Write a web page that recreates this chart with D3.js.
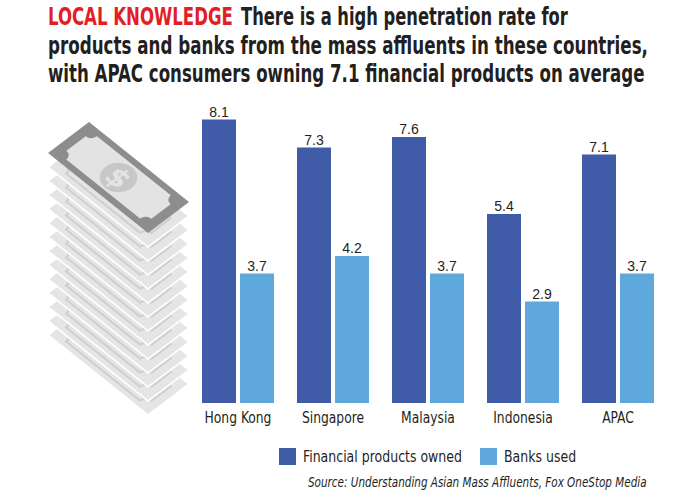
<!DOCTYPE html>
<html>
<head>
<meta charset="utf-8">
<script src="https://cdn.jsdelivr.net/npm/d3@7"></script>
<style>
  body { margin: 0; background: #fff; }
  svg { display: block; }
  .narrow { font-family: "Liberation Sans Narrow", "DejaVu Sans Condensed", "Liberation Sans", sans-serif; }
</style>
</head>
<body>
<svg id="chart" width="700" height="500"></svg>
<script>
// data
const categories = ["Hong Kong", "Singapore", "Malaysia", "Indonesia", "APAC"];
const seriesNames = ["Financial products owned", "Banks used"];
const productsOwned = [8.1, 7.3, 7.6, 5.4, 7.1];
const banksUsed = [3.7, 4.2, 3.7, 2.9, 3.7];
const titleKicker = "LOCAL KNOWLEDGE";
const titleLines = [
    "There is a high penetration rate for",
    "products and banks from the mass affluents in these countries,",
    "with APAC consumers owning 7.1 financial products on average"
];
const sourceText = "Source: Understanding Asian Mass Affluents, Fox OneStop Media";

const colors = ["#405ca8", "#5ea8dc"];
const ink = "#231f20";

const svg = d3.select("#chart");

// resserre un texte horizontalement pour tenir dans w pixels
function fitX(sel, x, y, w) {
    sel.attr("x", 0).attr("y", 0);
    const n = sel.node().getComputedTextLength();
    sel.attr("transform", `translate(${x},${y}) scale(${w / n},1)`);
    return w / n;
}

// titre
const kicker = svg.append("text")
    .attr("class", "narrow")
    .attr("font-size", 24)
    .attr("font-weight", "bold")
    .attr("fill", "#e31e24")
    .text(titleKicker);
fitX(kicker, 48, 25, 185);

const titlePos = [[241, 25, 327], [48, 53.5, 600], [48, 82, 597]];
titleLines.forEach((txt, i) => {
    const t = svg.append("text")
        .attr("class", "narrow")
        .attr("font-size", 24)
        .attr("font-weight", "bold")
        .attr("fill", ink)
        .text(txt);
    fitX(t, ...titlePos[i]);
});

// pile de billets (decor)
const noteM = "matrix(0.625,0.5,-0.64,0.484,89,122)";
const L = 160, S = 64, r = 9;
const outer = `M0,0H${L}V${S}H0Z`;
const inner = `M${12 + r},8H${L - 12 - r}A${r},${r} 0 0 0 ${L - 12},${8 + r}` +
    `V${S - 8 - r}A${r},${r} 0 0 0 ${L - 12 - r},${S - 8}` +
    `H${12 + r}A${r},${r} 0 0 0 12,${S - 8 - r}` +
    `V${8 + r}A${r},${r} 0 0 0 ${12 + r},8Z`;

const stack = svg.append("g");
const sheets = d3.range(13, 0, -1);
sheets.forEach(i => {
    const g = stack.append("g").attr("transform", `translate(0,${i * 14}) ${noteM}`);
    g.append("path").attr("d", outer)
        .attr("fill", "#e5e5e5").attr("stroke", "#fff").attr("stroke-width", 2.2);
    g.append("path").attr("d", inner)
        .attr("fill", "#e5e5e5").attr("stroke", "#cfcfcf").attr("stroke-width", 2.6);
});
const topNote = stack.append("g").attr("transform", noteM);
topNote.append("path").attr("d", outer).attr("fill", "#8d8d8f");
topNote.append("path").attr("d", inner).attr("fill", "#e3e3e3");
topNote.append("circle").attr("cx", L / 2).attr("cy", S / 2).attr("r", 21).attr("fill", "#c7c7c7");
topNote.append("text")
    .attr("x", L / 2).attr("y", S / 2 + 13)
    .attr("text-anchor", "middle")
    .attr("font-family", "DejaVu Sans, sans-serif")
    .attr("font-weight", "bold")
    .attr("font-size", 36)
    .attr("fill", "#e3e3e3")
    .text("$");

// echelles
const x0 = d3.scaleBand().domain(categories).range([202, 654]).paddingInner(23 / 95).paddingOuter(0);
const x1 = d3.scaleBand().domain(seriesNames).range([0, x0.bandwidth()]).paddingInner(2 - 72 / 38);
const y = d3.scaleLinear().domain([0, 10]).range([403, 53]);

const rows = categories.map((c, i) => ({
    cat: c,
    vals: [productsOwned[i], banksUsed[i]]
}));

const groups = svg.append("g").selectAll("g").data(rows).join("g")
    .attr("transform", d => `translate(${x0(d.cat)},0)`);

groups.selectAll("rect").data(d => d.vals.map((v, k) => ({ v, k }))).join("rect")
    .attr("x", d => x1(seriesNames[d.k]))
    .attr("y", d => y(d.v))
    .attr("width", x1.bandwidth())
    .attr("height", d => y(0) - y(d.v))
    .attr("fill", d => colors[d.k]);

groups.selectAll("text.val").data(d => d.vals.map((v, k) => ({ v, k }))).join("text")
    .attr("class", "val")
    .attr("x", d => x1(seriesNames[d.k]) + x1.bandwidth() / 2)
    .attr("y", d => y(d.v) - 3)
    .attr("text-anchor", "middle")
    .attr("font-family", "Liberation Sans, Arial, sans-serif")
    .attr("font-size", 14)
    .attr("fill", ink)
    .text(d => d3.format(".1f")(d.v));

// axe des categories, sans ligne
const xAxis = svg.append("g")
    .attr("transform", `translate(0,${y(0)})`)
    .call(d3.axisBottom(x0).tickSize(0).tickPadding(0));
xAxis.attr("font-family", null).attr("font-size", null);
xAxis.select(".domain").remove();
const catLabels = xAxis.selectAll("text")
    .attr("class", "narrow")
    .attr("font-size", 16)
    .attr("fill", ink)
    .attr("dy", null);
// meme facteur pour toutes les etiquettes, calÃ© sur "Hong Kong"
const hk = catLabels.filter(d => d === "Hong Kong").node().getComputedTextLength();
catLabels.attr("y", 0).attr("transform", `translate(0,20) scale(${67 / hk},1)`);

// legende
const legendX = [279, 480];
const legend = svg.append("g").selectAll("g").data(seriesNames).join("g")
    .attr("transform", (d, i) => `translate(${legendX[i]},448)`);
legend.append("rect").attr("width", 17).attr("height", 17).attr("fill", (d, i) => colors[i]);
const legText = legend.append("text")
    .attr("class", "narrow")
    .attr("font-size", 16)
    .attr("fill", ink)
    .text(d => d);
const legScale = 159 / legText.node().getComputedTextLength();
legText.attr("transform", `translate(24,14) scale(${legScale},1)`);

// source
const src = svg.append("text")
    .attr("class", "narrow")
    .attr("font-size", 13.5)
    .attr("font-style", "italic")
    .attr("fill", ink)
    .text(sourceText);
fitX(src, 308, 487, 339);
</script>
</body>
</html>
